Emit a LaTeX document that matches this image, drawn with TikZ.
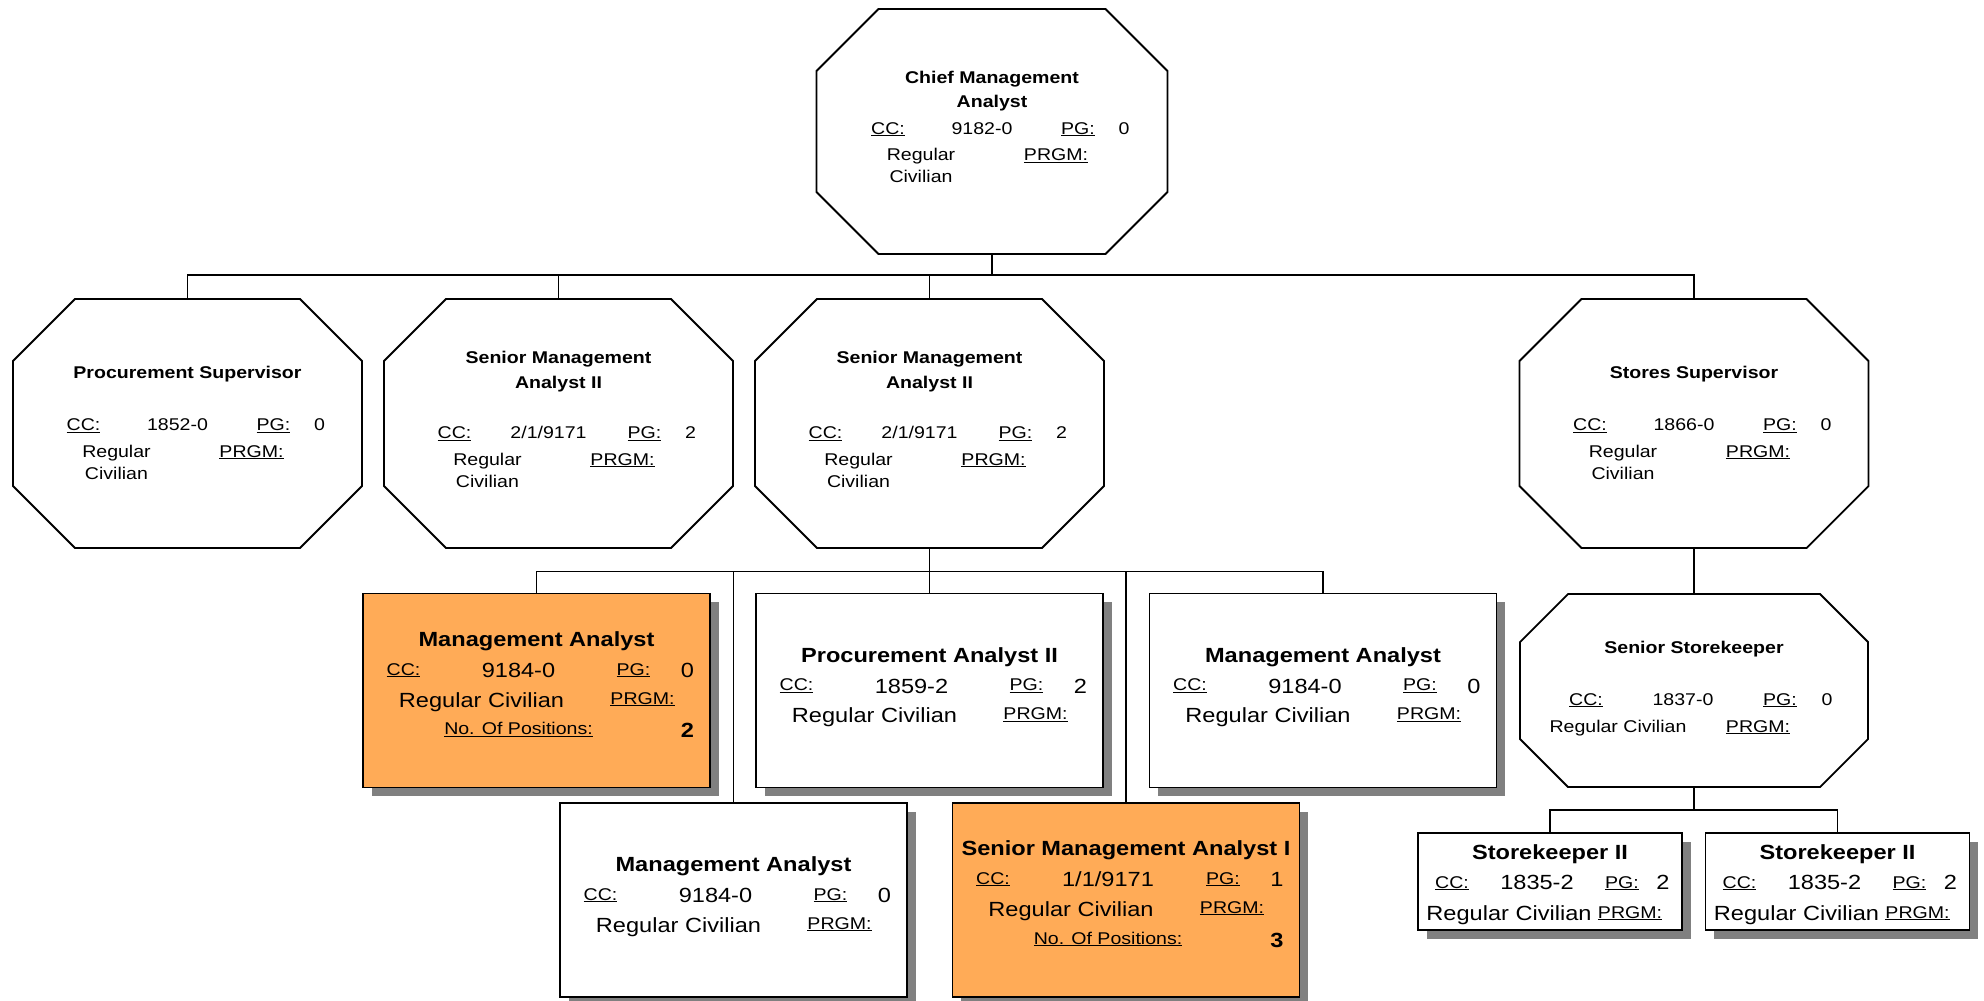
\documentclass[tikz,border=0pt]{standalone}
\usepackage{fontspec}
\setmainfont{Liberation Sans}[FakeStretch=1.15]
\usetikzlibrary{shadows}

\definecolor{posorange}{RGB}{255,171,87}
\definecolor{shadowgray}{RGB}{128,128,128}

% outline of an octagon round an empty node, #2 = size of the cut corners
\newcommand{\octoutline}[2]{%
  \draw [boxline] ([xshift=#2]#1.north west) -- ([xshift=-#2]#1.north east)
    -- ([yshift=-#2]#1.north east) -- ([yshift=#2]#1.south east)
    -- ([xshift=-#2]#1.south east) -- ([xshift=#2]#1.south west)
    -- ([yshift=#2]#1.south west) -- ([yshift=-#2]#1.north west) -- cycle;}

% CC / PG / PRGM lines of an octagon, #4 = offset of the CC line
\newcommand{\octfields}[4]{%
  \node (#1-cc) [txt] at ([shift={(-104,#4)}]#1.center) {\underline{CC:}};
  \node (#1-ccv) [txt] at ([shift={(-10,#4)}]#1.center) {#2};
  \node (#1-pg) [txt] at ([shift={(86,#4)}]#1.center) {\underline{PG:}};
  \node (#1-pgv) [txt] at ([shift={(132,#4)}]#1.center) {#3};
  \node (#1-reg) [txt] at ([shift={(-71,#4+26.5)}]#1.center) {Regular};
  \node (#1-civ) [txt] at ([shift={(-71,#4+48.5)}]#1.center) {Civilian};
  \node (#1-prgm) [txt] at ([shift={(64,#4+26.5)}]#1.center) {\underline{PRGM:}};}

% same for the square boxes
\newcommand{\boxfields}[4]{%
  \node (#1-cc) [txt] at ([shift={(-133,#4)}]#1.center) {\underline{CC:}};
  \node (#1-ccv) [numtxt] at ([shift={(-18,#4+2.5)}]#1.center) {#2};
  \node (#1-pg) [txt] at ([shift={(97,#4)}]#1.center) {\underline{PG:}};
  \node (#1-pgv) [numtxt] at ([shift={(151,#4+2.5)}]#1.center) {#3};
  \node (#1-reg) [numtxt] at ([shift={(-55,#4+32)}]#1.center) {Regular Civilian};
  \node (#1-prgm) [txt] at ([shift={(106,#4+29)}]#1.center) {\underline{PRGM:}};}

% small storekeeper boxes
\newcommand{\keeperfields}[3]{%
  \node (#1-t) [bigttl] at ([shift={(0,-22.5)}]#1.center) {Storekeeper II};
  \node (#1-cc) [txt] at ([shift={(-98,6.5)}]#1.center) {\underline{CC:}};
  \node (#1-ccv) [numtxt] at ([shift={(-13,7.5)}]#1.center) {#2};
  \node (#1-pg) [txt] at ([shift={(72,6.5)}]#1.center) {\underline{PG:}};
  \node (#1-pgv) [numtxt] at ([shift={(113,7.5)}]#1.center) {#3};
  \node (#1-reg) [numtxt] at ([shift={(-41,38.5)}]#1.center) {Regular Civilian};
  \node (#1-prgm) [txt] at ([shift={(80,36.5)}]#1.center) {\underline{PRGM:}};}

\begin{document}
\begin{tikzpicture}[x=1pt, y=-1pt]

\tikzstyle{boxline}=[line width=1.8pt, line join=miter]
\tikzstyle{link}=[line width=1.8pt]
\tikzstyle{octbox}=[draw=none, inner sep=0pt, outer sep=0pt, minimum width=349pt, minimum height=249pt]
\tikzstyle{posbox}=[draw, fill=white, line width=1.8pt, inner sep=0pt, outer sep=0pt,
                    minimum width=347pt, minimum height=194pt,
                    drop shadow={shadow xshift=8.5pt, shadow yshift=-8.5pt, fill=shadowgray, opacity=1}]
\tikzstyle{extra}=[posbox, fill=posorange]
\tikzstyle{keeperbox}=[posbox, minimum width=264pt, minimum height=97pt]
\tikzstyle{txt}=[inner sep=0pt, anchor=base, font=\fontsize{17}{20}\selectfont]
\tikzstyle{ttl}=[txt, font=\bfseries\fontsize{17}{20}\selectfont]
\tikzstyle{numtxt}=[txt, font=\fontsize{20.5}{24}\selectfont]
\tikzstyle{bigttl}=[txt, font=\bfseries\fontsize{20.5}{24}\selectfont]

\useasboundingbox (0,0) rectangle (1984,1001);

% octagons
\node (chief) [octbox, minimum width=351pt, minimum height=245pt] at (992,131.5) {};
\node (procsup) [octbox] at (187.5,423.5) {};
\node (smaleft) [octbox] at (558.5,423.5) {};
\node (smaright) [octbox] at (929.5,423.5) {};
\node (storesup) [octbox] at (1694,423.5) {};
\node (srkeeper) [octbox, minimum width=348pt, minimum height=193pt] at (1694,690.5) {};

\octoutline{chief}{62pt}
\octoutline{procsup}{62pt}
\octoutline{smaleft}{62pt}
\octoutline{smaright}{62pt}
\octoutline{storesup}{62pt}
\octoutline{srkeeper}{48pt}

% boxes
\node (mgmtone) [extra] at (536.5,690.5) {};
\node (procan) [posbox] at (929.5,690.5) {};
\node (mgmttwo) [posbox] at (1323,690.5) {};
\node (mgmtthree) [posbox] at (733.5,900) {};
\node (smaone) [extra] at (1126,900) {};
\node (keeperone) [keeperbox] at (1550,881.5) {};
\node (keepertwo) [keeperbox] at (1837.5,881.5) {};

% connectors
\coordinate (topbus) at (992,275);
\draw [link] (chief.south) -- (topbus);
\foreach \n in {procsup, smaleft, smaright, storesup}
  \draw [link] (topbus) -| (\n.north);

\coordinate (midbus) at (929.5,571.5);
\draw [link] (smaright.south) -- (midbus);
\foreach \n in {mgmtone, procan, mgmttwo, mgmtthree, smaone}
  \draw [link] (midbus) -| (\n.north);

\draw [link] (storesup.south) -- (srkeeper.north);
\coordinate (lowbus) at (1694,810);
\draw [link] (srkeeper.south) -- (lowbus);
\foreach \n in {keeperone, keepertwo}
  \draw [link] (lowbus) -| (\n.north);

% texts
\node (chief-t1) [ttl] at ([shift={(0,-48.5)}]chief.center) {Chief Management};
\node (chief-t2) [ttl] at ([shift={(0,-24.5)}]chief.center) {Analyst};
\octfields{chief}{9182-0}{0}{2.5}

\node (procsup-t) [ttl] at ([shift={(0,-45.5)}]procsup.center) {Procurement Supervisor};
\octfields{procsup}{1852-0}{0}{7}

\node (smaleft-t1) [ttl] at ([shift={(0,-60)}]smaleft.center) {Senior Management};
\node (smaleft-t2) [ttl] at ([shift={(0,-35)}]smaleft.center) {Analyst II};
\octfields{smaleft}{2/1/9171}{2}{15}

\node (smaright-t1) [ttl] at ([shift={(0,-60)}]smaright.center) {Senior Management};
\node (smaright-t2) [ttl] at ([shift={(0,-35)}]smaright.center) {Analyst II};
\octfields{smaright}{2/1/9171}{2}{15}

\node (storesup-t) [ttl] at ([shift={(0,-45.5)}]storesup.center) {Stores Supervisor};
\octfields{storesup}{1866-0}{0}{7}

\node (srkeeper-t) [ttl] at ([shift={(0,-37.5)}]srkeeper.center) {Senior Storekeeper};
\node (srkeeper-cc) [txt] at ([shift={(-108,14.5)}]srkeeper.center) {\underline{CC:}};
\node (srkeeper-ccv) [txt] at ([shift={(-11,14.5)}]srkeeper.center) {1837-0};
\node (srkeeper-pg) [txt] at ([shift={(86,14.5)}]srkeeper.center) {\underline{PG:}};
\node (srkeeper-pgv) [txt] at ([shift={(133,14.5)}]srkeeper.center) {0};
\node (srkeeper-reg) [txt] at ([shift={(-76,41.5)}]srkeeper.center) {Regular Civilian};
\node (srkeeper-prgm) [txt] at ([shift={(64,41.5)}]srkeeper.center) {\underline{PRGM:}};

\node (mgmtone-t) [bigttl] at ([shift={(0,-44)}]mgmtone.center) {Management Analyst};
\boxfields{mgmtone}{9184-0}{0}{-15.5}
\node (mgmtone-no) [txt] at ([shift={(-18,44)}]mgmtone.center) {\underline{No. Of Positions:}};
\node (mgmtone-nv) [bigttl] at ([shift={(151,47)}]mgmtone.center) {2};

\node (procan-t) [bigttl] at ([shift={(0,-28.5)}]procan.center) {Procurement Analyst II};
\boxfields{procan}{1859-2}{2}{0}

\node (mgmttwo-t) [bigttl] at ([shift={(0,-28.5)}]mgmttwo.center) {Management Analyst};
\boxfields{mgmttwo}{9184-0}{0}{0}

\node (mgmtthree-t) [bigttl] at ([shift={(0,-28.5)}]mgmtthree.center) {Management Analyst};
\boxfields{mgmtthree}{9184-0}{0}{0}

\node (smaone-t) [bigttl] at ([shift={(0,-45)}]smaone.center) {Senior Management Analyst I};
\boxfields{smaone}{1/1/9171}{1}{-16}
\node (smaone-no) [txt] at ([shift={(-18,44)}]smaone.center) {\underline{No. Of Positions:}};
\node (smaone-nv) [bigttl] at ([shift={(151,47)}]smaone.center) {3};

\keeperfields{keeperone}{1835-2}{2}
\keeperfields{keepertwo}{1835-2}{2}

\end{tikzpicture}
\end{document}
